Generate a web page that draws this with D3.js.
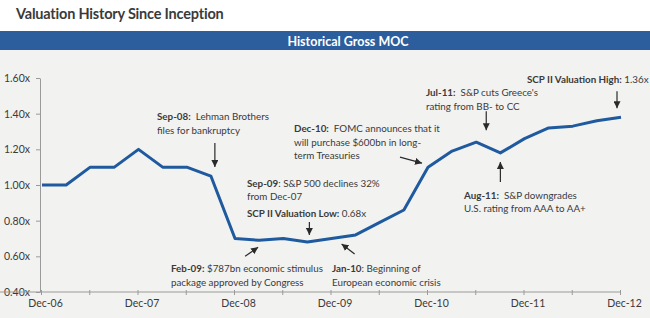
<!DOCTYPE html>
<html>
<head>
<meta charset="utf-8">
<script src="https://cdn.jsdelivr.net/npm/d3@7"></script>
<style>
  html, body { margin: 0; padding: 0; background: #ffffff; }
  svg { display: block; }
  text { font-family: Lato, "Open Sans", sans-serif; }
</style>
</head>
<body>
<svg id="chart" width="650" height="318"></svg>
<script>
// ---- data ----
const quarters = ["Dec-06","Mar-07","Jun-07","Sep-07","Dec-07","Mar-08","Jun-08","Sep-08","Dec-08",
  "Mar-09","Jun-09","Sep-09","Dec-09","Mar-10","Jun-10","Sep-10","Dec-10","Mar-11","Jun-11","Sep-11",
  "Dec-11","Mar-12","Jun-12","Sep-12","Dec-12"];
const grossMOC = [1.00,1.00,1.10,1.10,1.20,1.10,1.10,1.05,0.70,0.69,0.70,0.68,0.70,0.72,0.79,0.86,
  1.10,1.19,1.24,1.18,1.26,1.32,1.33,1.36,1.38];
const xTickLabels = ["Dec-06","Dec-07","Dec-08","Dec-09","Dec-10","Dec-11","Dec-12"];
const yTickValues = [0.40,0.60,0.80,1.00,1.20,1.40,1.60];
const titleText = "Valuation History Since Inception";
const bannerText = "Historical Gross MOC";

// annotation texts: [bold part, normal part] per line
const annotationTexts = [
  [["Sep-08:", "  Lehman Brothers"], ["", "files for bankruptcy"]],
  [["Dec-10:", "  FOMC announces that it"], ["", "will purchase $600bn in long-"], ["", "term Treasuries"]],
  [["Sep-09", ": S&P 500 declines 32%"], ["", "from Dec-07"]],
  [["SCP II Valuation Low:", " 0.68x"]],
  [["Feb-09:", " $787bn economic stimulus"], ["", "package approved by Congress"]],
  [["Jan-10", ": Beginning of"], ["", "European economic crisis"]],
  [["Jul-11:", "  S&P cuts Greece's"], ["", "rating from BB- to CC"]],
  [["SCP II Valuation High:", " 1.36x"]],
  [["Aug-11:", "  S&P downgrades"], ["", "U.S. rating from AAA to AA+"]]
];
// quarter each arrow refers to (null = no arrow)
const annotationQuarter = [7, 16, 11, null, 9, 13, 18, 24, 19];

// ---- layout ----
const W = 650, H = 318;
const textLayout = [
  {x:157, y:120, lh:14}, {x:294, y:132, lh:13.5}, {x:247, y:187, lh:12.5}, {x:247, y:217, lh:13},
  {x:171, y:272, lh:13.5}, {x:332, y:272, lh:13.5}, {x:426, y:96, lh:14}, {x:527, y:83, lh:13},
  {x:464, y:198.5, lh:13.5}
];
// arrow tail/head offsets relative to referenced data point (px)
const arrowLayout = [
  {t:[4,-33], h:[4,-9]}, {t:[-28,-10], h:[-6,-4]}, {t:[2,-20], h:[2,-7]}, null,
  {t:[-14,16], h:[-1,7]}, {t:[-1,19], h:[-14,9]}, {t:[10,-31], h:[10,-12]},
  {t:[-4,-26], h:[-4,-9]}, {t:[0,29], h:[0,9]}
];

const svg = d3.select("#chart");

// backgrounds
svg.append("rect").attr("x",0).attr("y",0).attr("width",W).attr("height",H).attr("fill","#ffffff");
svg.append("rect").attr("x",0).attr("y",50).attr("width",W).attr("height",H-50).attr("fill","#f2f2f1");
svg.append("rect").attr("x",0).attr("y",31).attr("width",W).attr("height",19).attr("fill","#2c5e9e");

svg.append("text").attr("x",16).attr("y",19).attr("fill","#3a3a3a")
  .attr("font-size",14.5).attr("font-weight","bold").attr("letter-spacing",-0.2).text(titleText);
svg.append("text").attr("x",348).attr("y",45.5).attr("fill","#ffffff").attr("text-anchor","middle")
  .attr("font-size",12.5).attr("font-weight","bold").text(bannerText);

// scales
const x = d3.scaleLinear().domain([0, quarters.length-1]).range([42, 621]);
const y = d3.scaleLinear().domain([0.4, 1.6]).range([292, 78]);

// y axis
const yAxis = d3.axisLeft(y).tickValues(yTickValues).tickSize(4).tickSizeOuter(0)
  .tickFormat(d => d3.format(".2f")(d) + "x");
const gy = svg.append("g").attr("transform","translate(40,0)").call(yAxis);
gy.select(".domain").attr("stroke","#9a9a9a");
gy.selectAll(".tick line").attr("stroke","#9a9a9a");
gy.selectAll(".tick text").attr("fill","#3a3a3a").attr("font-size",10.5).attr("x",-10)
  .style("font-family","Lato, sans-serif");

// x axis
const xTickIdx = d3.range(0, quarters.length, 2);
const xAxis = d3.axisBottom(x).tickValues(xTickIdx).tickSize(3).tickSizeOuter(0)
  .tickFormat(i => xTickLabels.includes(quarters[i]) ? quarters[i] : "");
const gx = svg.append("g").attr("transform","translate(-1,292)").call(xAxis);
gx.select(".domain").attr("stroke","#9a9a9a").attr("d","M1,0H622");
gx.selectAll(".tick line").attr("stroke","#9a9a9a").attr("y1",-2);
gx.selectAll(".tick text").attr("fill","#3a3a3a").attr("font-size",10.5).attr("dx",4).attr("y",8)
  .style("font-family","Lato, sans-serif");

// line
const line = d3.line().x((d,i) => x(i)).y(d => y(d));
svg.append("path").datum(grossMOC).attr("d", line).attr("fill","none")
  .attr("stroke","#1f5a9f").attr("stroke-width",3).attr("stroke-linejoin","round");

// arrow marker
svg.append("defs").append("marker").attr("id","ah").attr("viewBox","0 0 10 10")
  .attr("refX",10).attr("refY",5).attr("markerWidth",7).attr("markerHeight",7)
  .attr("markerUnits","userSpaceOnUse").attr("orient","auto")
  .append("path").attr("d","M0,0L10,5L0,10Z").attr("fill","#2a2a2a");

// annotations
annotationTexts.forEach((lines, k) => {
  const L = textLayout[k];
  const t = svg.append("text").attr("fill","#3a3a3a").attr("font-size",9.8);
  lines.forEach((ln, j) => {
    const ts = t.append("tspan").attr("x", L.x).attr("y", L.y + j*L.lh);
    if (ln[0]) ts.append("tspan").attr("font-weight","bold").text(ln[0]);
    ts.append("tspan").attr("xml:space","preserve").style("white-space","pre").text(ln[1]);
  });
  const q = annotationQuarter[k], A = arrowLayout[k];
  if (q !== null && A) {
    const px = x(q), py = y(grossMOC[q]);
    svg.append("line").attr("x1",px+A.t[0]).attr("y1",py+A.t[1])
      .attr("x2",px+A.h[0]).attr("y2",py+A.h[1])
      .attr("stroke","#2a2a2a").attr("stroke-width",1.2).attr("marker-end","url(#ah)");
  }
});
</script>
</body>
</html>
